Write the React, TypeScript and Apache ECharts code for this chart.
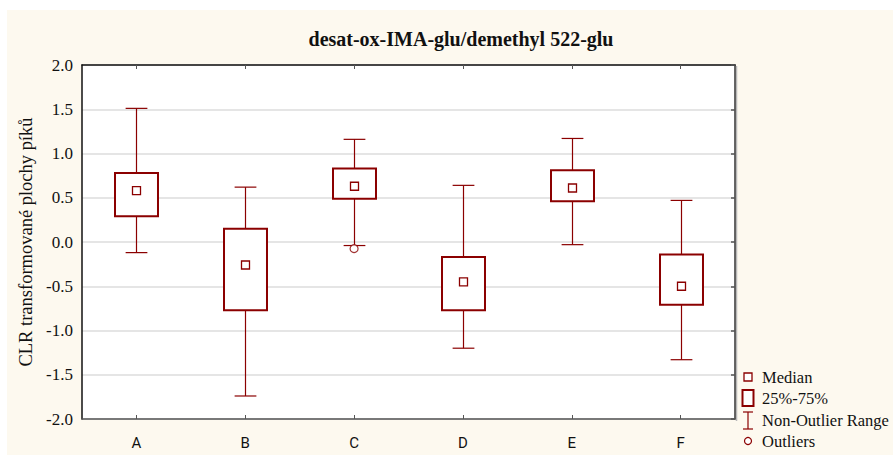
import React, { useEffect, useRef } from "react";
import * as echarts from "echarts";

const categories = ["A", "B", "C", "D", "E", "F"];
const whiskerLow = [-0.12, -1.74, -0.04, -1.2, -0.03, -1.33];
const q1 = [0.29, -0.77, 0.49, -0.77, 0.46, -0.71];
const median = [0.58, -0.26, 0.63, -0.45, 0.61, -0.5];
const q3 = [0.78, 0.15, 0.83, -0.17, 0.81, -0.14];
const whiskerHigh = [1.51, 0.62, 1.16, 0.64, 1.17, 0.47];
const outliers: [string, number][] = [["C", -0.075]];

const yTicks = [-2.0, -1.5, -1.0, -0.5, 0.0, 0.5, 1.0, 1.5, 2.0];
const title = "desat-ox-IMA-glu/demethyl 522-glu";
const yName = "CLR transformované plochy píků";
const legendItems = ["Median", "25%-75%", "Non-Outlier Range", "Outliers"];

const RED = "#8b0000";
const SERIF = "'Liberation Serif', 'Times New Roman', serif";
const SANS = "Roboto, 'Liberation Sans', Arial, sans-serif";

export default function App() {
  const ref = useRef<HTMLDivElement>(null);
  useEffect(() => {
    if (!ref.current) return;
    const chart = echarts.init(ref.current, undefined, { renderer: "svg" });
    const boxData = categories.map((_, i) => [i, whiskerLow[i], q1[i], median[i], q3[i], whiskerHigh[i]]);

    const legendY = [377, 398, 420, 441];
    const lx = 748;
    const graphic: any[] = [
      { type: "line", silent: true, shape: { x1: 736.5, y1: 66, x2: 736.5, y2: 421 }, style: { stroke: "#b8b8b8", lineWidth: 1.5 } },
      { type: "rect", shape: { x: lx - 4, y: legendY[0] - 4, width: 8, height: 8 }, style: { fill: "#fff", stroke: RED, lineWidth: 1.3 } },
      { type: "rect", shape: { x: lx - 5.5, y: legendY[1] - 8, width: 11, height: 16 }, style: { fill: "#fff", stroke: RED, lineWidth: 2 } },
      { type: "line", shape: { x1: lx, y1: legendY[2] - 8, x2: lx, y2: legendY[2] + 9 }, style: { stroke: RED, lineWidth: 1.2 } },
      { type: "line", shape: { x1: lx - 5, y1: legendY[2] - 8, x2: lx + 5, y2: legendY[2] - 8 }, style: { stroke: RED, lineWidth: 1.2 } },
      { type: "line", shape: { x1: lx - 5, y1: legendY[2] + 9, x2: lx + 5, y2: legendY[2] + 9 }, style: { stroke: RED, lineWidth: 1.2 } },
      { type: "circle", shape: { cx: lx, cy: legendY[3], r: 3.5 }, style: { fill: "#fff", stroke: RED, lineWidth: 1.2 } },
      ...legendItems.map((t, i) => ({
        type: "text",
        x: 762,
        y: legendY[i],
        style: { text: t, fontFamily: SERIF, fontSize: 16.5, fill: "#111", verticalAlign: "middle", align: "left" },
      })),
    ];

    chart.setOption({
      animation: false,
      backgroundColor: "transparent",
      title: {
        text: title,
        left: 456,
        top: 24,
        textAlign: "center",
        textStyle: { fontFamily: SERIF, fontSize: 20, fontWeight: "bold", color: "#111" },
      },
      grid: { left: 82, top: 65, right: 159, bottom: 36, show: true, backgroundColor: "#fff", borderWidth: 0 },
      xAxis: [
        {
          type: "category",
          data: categories,
          position: "bottom",
          boundaryGap: true,
          axisLine: { onZero: false, lineStyle: { color: "#555", width: 1.5 } },
          axisTick: { show: true, inside: true, alignWithLabel: true, length: 4, lineStyle: { color: "#555" } },
          axisLabel: { fontFamily: SANS, fontSize: 15, color: "#111", margin: 16 },
          splitLine: { show: false },
        },
        {
          type: "category",
          data: categories,
          position: "top",
          boundaryGap: true,
          axisLine: { onZero: false, lineStyle: { color: "#111", width: 1.5 } },
          axisTick: { show: true, inside: true, alignWithLabel: true, length: 4, lineStyle: { color: "#555" } },
          axisLabel: { show: false },
        },
      ],
      yAxis: [
        {
          type: "value",
          min: -2,
          max: 2,
          interval: 0.5,
          position: "left",
          name: yName,
          nameLocation: "middle",
          nameGap: 45,
          nameTextStyle: { fontFamily: SERIF, fontSize: 18.5, color: "#111" },
          axisLine: { show: true, onZero: false, lineStyle: { color: "#111", width: 1.5 } },
          axisTick: { show: false },
          axisLabel: {
            fontFamily: SERIF,
            fontSize: 17,
            color: "#111",
            margin: 9,
            formatter: (v: number) => (yTicks.includes(v) ? v.toFixed(1) : ""),
          },
          splitLine: { show: true, lineStyle: { color: "#dcdcdc", width: 1.5 } },
        },
        {
          type: "value",
          min: -2,
          max: 2,
          interval: 0.5,
          position: "right",
          axisLine: { show: true, onZero: false, lineStyle: { color: "#333", width: 1.5 } },
          axisTick: { show: true, inside: true, length: 4, lineStyle: { color: "#555", width: 1.5 } },
          axisLabel: { show: false },
          splitLine: { show: false },
        },
      ],
      graphic,
      series: [
        {
          type: "custom",
          xAxisIndex: 0,
          yAxisIndex: 0,
          data: boxData,
          renderItem: (params: any, api: any) => {
            const idx = api.value(0);
            const lo = api.coord([idx, api.value(1)]);
            const b1 = api.coord([idx, api.value(2)]);
            const md = api.coord([idx, api.value(3)]);
            const b3 = api.coord([idx, api.value(4)]);
            const hi = api.coord([idx, api.value(5)]);
            const band = api.size([1, 0])[0];
            const x = Math.round(lo[0]) + 0.5;
            const bw = band * 0.395;
            const cw = band * 0.2;
            const ls = { stroke: RED, lineWidth: 1.2 };
            return {
              type: "group",
              children: [
                { type: "line", shape: { x1: x, y1: lo[1], x2: x, y2: b1[1] }, style: ls },
                { type: "line", shape: { x1: x, y1: b3[1], x2: x, y2: hi[1] }, style: ls },
                { type: "line", shape: { x1: x - cw / 2, y1: lo[1], x2: x + cw / 2, y2: lo[1] }, style: ls },
                { type: "line", shape: { x1: x - cw / 2, y1: hi[1], x2: x + cw / 2, y2: hi[1] }, style: ls },
                {
                  type: "rect",
                  shape: { x: x - bw / 2, y: b3[1], width: bw, height: b1[1] - b3[1] },
                  style: { fill: "#fff", stroke: RED, lineWidth: 2 },
                },
                {
                  type: "rect",
                  shape: { x: x - 4, y: md[1] - 4, width: 8, height: 8 },
                  style: { fill: "#fff", stroke: RED, lineWidth: 1.3 },
                },
              ],
            };
          },
        },
        {
          type: "scatter",
          xAxisIndex: 0,
          yAxisIndex: 0,
          data: outliers,
          symbol: "circle",
          symbolSize: 8,
          itemStyle: { color: "#fff", borderColor: RED, borderWidth: 1.2 },
          z: 5,
        },
      ],
    });
    return () => chart.dispose();
  }, []);

  return (
    <div style={{ position: "fixed", left: 0, top: 0, width: 894, height: 455, background: "#fff" }}>
      <div style={{ position: "absolute", left: 7, top: 10, width: 886, height: 445, background: "#fdf9ef" }} />
      <div ref={ref} style={{ position: "absolute", left: 0, top: 0, width: 894, height: 455 }} />
    </div>
  );
}
